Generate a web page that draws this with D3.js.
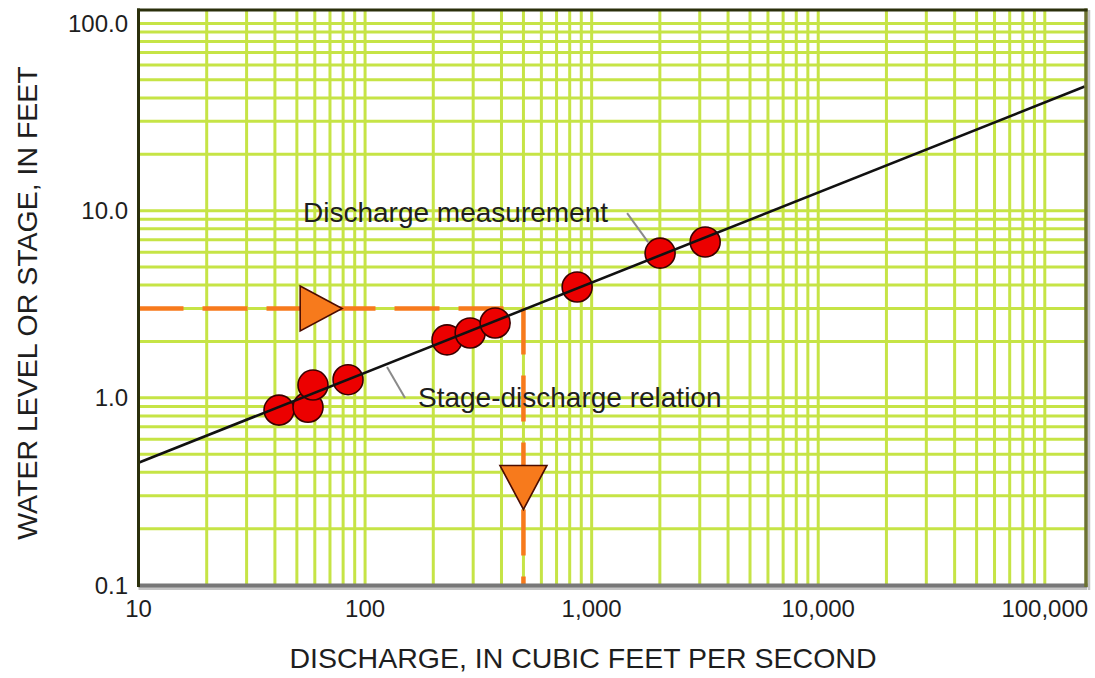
<!DOCTYPE html>
<html>
<head>
<meta charset="utf-8">
<script src="https://cdn.jsdelivr.net/npm/d3@7"></script>
<style>
  html, body { margin: 0; padding: 0; background: #ffffff; }
  svg { display: block; }
  text { font-family: "Liberation Sans", Arial, Helvetica, sans-serif; fill: #1e1e1e; }
</style>
</head>
<body>
<svg id="chart" width="1095" height="678"></svg>
<script>
// Discharge measurements (cubic feet per second) and the stage observed at each
const measDischarge = [41.7, 56.0, 58.9, 84.1, 230, 291, 375, 863, 2005, 3170];
const measStage     = [0.86, 0.89, 1.17, 1.25, 2.04, 2.22, 2.51, 3.91, 5.93, 6.80];

// Stage-discharge relation (rating curve) end points
const ratingDischarge = [10, 150000];
const ratingStage     = [0.45, 46];

// Example reading: a stage of 3.0 ft gives a discharge of 500 cfs
const readDischarge = 500;
const readStage = 3.0;
// Arrow markers along the reading path
const arrowDischarge = [64, 500];
const arrowStage     = [3.0, 0.332];
const arrowDir       = ["right", "down"];

// Axis ticks
const xTicks = [10, 100, 1000, 10000, 100000];
const xTickLabels = ["10", "100", "1,000", "10,000", "100,000"];
const yTicks = [0.1, 1, 10, 100];
const yTickLabels = ["0.1", "1.0", "10.0", "100.0"];

const svg = d3.select("#chart");
const plotLeft = 138.5, plotRight = 1086, plotTop = 10, plotBottom = 585;

const x = d3.scaleLog().domain([10, 152000]).range([plotLeft, plotRight]);
const y = d3.scaleLog().domain([0.1, 118]).range([plotBottom, plotTop]);

const gridColor = "#c6e446";
const orange = "#f77a1c";

// Grid
const grid = svg.append("g");
grid.selectAll("line.vx")
  .data(x.ticks().filter(d => d > 10))
  .join("line")
  .attr("x1", d => x(d)).attr("x2", d => x(d))
  .attr("y1", plotTop).attr("y2", plotBottom)
  .attr("stroke", gridColor).attr("stroke-width", 3);
grid.selectAll("line.hy")
  .data(y.ticks().filter(d => d > 0.1))
  .join("line")
  .attr("y1", d => y(d)).attr("y2", d => y(d))
  .attr("x1", plotLeft).attr("x2", plotRight)
  .attr("stroke", gridColor).attr("stroke-width", 3);

// Reading path: stage across to the curve, then down to discharge
const reading = svg.append("g")
  .attr("stroke", orange).attr("stroke-width", 4.5).attr("fill", "none");
reading.append("line")
  .attr("x1", x(10)).attr("x2", x(readDischarge))
  .attr("y1", y(readStage)).attr("y2", y(readStage))
  .attr("stroke-dasharray", "45,19");
reading.append("line")
  .attr("x1", x(readDischarge)).attr("x2", x(readDischarge))
  .attr("y1", y(readStage)).attr("y2", y(0.1))
  .attr("stroke-dasharray", "46,21");

// Measurements
svg.append("g").selectAll("circle")
  .data(measDischarge.map((q, i) => ({ q, s: measStage[i] })))
  .join("circle")
  .attr("cx", d => x(d.q)).attr("cy", d => y(d.s))
  .attr("r", 15)
  .attr("fill", "#ec0000")
  .attr("stroke", "#3a0000").attr("stroke-width", 1.6);

// Rating curve
const line = d3.line().x(d => x(d.q)).y(d => y(d.s));
svg.append("path")
  .datum(ratingDischarge.map((q, i) => ({ q, s: ratingStage[i] })))
  .attr("d", line)
  .attr("fill", "none").attr("stroke", "#111").attr("stroke-width", 2.6);

// Arrow markers
const triW = 42, triH = 45;
svg.append("g").selectAll("path")
  .data(arrowDischarge.map((q, i) => ({ q, s: arrowStage[i], dir: arrowDir[i] })))
  .join("path")
  .attr("d", d => {
    const cx = x(d.q), cy = y(d.s);
    if (d.dir === "right") {
      return `M${cx - triW / 2},${cy - triH / 2}L${cx + triW / 2},${cy}L${cx - triW / 2},${cy + triH / 2}Z`;
    }
    return `M${cx - triH / 2 - 1},${cy - triW / 2 - 1}L${cx + triH / 2 + 1},${cy - triW / 2 - 1}L${cx},${cy + triW / 2 + 1}Z`;
  })
  .attr("fill", orange)
  .attr("stroke", "#4a0c00").attr("stroke-width", 1.6)
  .attr("stroke-linejoin", "miter");

// Leader lines for annotations
const leaders = svg.append("g").attr("stroke", "#8a8a8a").attr("stroke-width", 2).attr("fill", "none");
const mq = measDischarge[8], ms = measStage[8];
leaders.append("line")
  .attr("x1", x(mq) - 33).attr("y1", y(ms) - 40)
  .attr("x2", x(mq) - 12).attr("y2", y(ms) - 11);
const lq = 125;
const ratingAt = q => {
  const t = (Math.log10(q) - Math.log10(ratingDischarge[0])) /
            (Math.log10(ratingDischarge[1]) - Math.log10(ratingDischarge[0]));
  return Math.pow(10, Math.log10(ratingStage[0]) + t * (Math.log10(ratingStage[1]) - Math.log10(ratingStage[0])));
};
leaders.append("line")
  .attr("x1", x(lq)).attr("y1", y(ratingAt(lq)) + 3)
  .attr("x2", x(lq) + 18).attr("y2", y(ratingAt(lq)) + 34);

// Annotation text
svg.append("text")
  .attr("x", 303).attr("y", 222)
  .attr("font-size", 28)
  .text("Discharge measurement");
svg.append("text")
  .attr("x", 418).attr("y", 407)
  .attr("font-size", 28)
  .text("Stage-discharge relation");

// Frame
const frame = svg.append("g").attr("fill", "none");
frame.append("line").attr("x1", plotLeft).attr("x2", plotRight + 1).attr("y1", plotBottom + 3.5).attr("y2", plotBottom + 3.5)
  .attr("stroke", "#c4c4c4").attr("stroke-width", 3);
frame.append("line").attr("x1", plotRight + 3).attr("x2", plotRight + 3).attr("y1", plotTop).attr("y2", plotBottom + 5)
  .attr("stroke", "#c4c4c4").attr("stroke-width", 2.5);
frame.append("line").attr("x1", plotLeft).attr("x2", plotRight + 1.5).attr("y1", plotBottom + 0.5).attr("y2", plotBottom + 0.5)
  .attr("stroke", "#777777").attr("stroke-width", 4);
frame.append("line").attr("x1", plotRight).attr("x2", plotRight).attr("y1", plotTop - 1.5).attr("y2", plotBottom + 2)
  .attr("stroke", "#6c7232").attr("stroke-width", 3.5);
frame.append("line").attr("x1", plotLeft - 1.5).attr("x2", plotRight + 1.5).attr("y1", plotTop).attr("y2", plotTop)
  .attr("stroke", "#2b300c").attr("stroke-width", 3);
frame.append("line").attr("x1", plotLeft).attr("x2", plotLeft).attr("y1", plotTop - 1.5).attr("y2", plotBottom + 2)
  .attr("stroke", "#2b300c").attr("stroke-width", 3);

// Tick labels
svg.append("g").selectAll("text")
  .data(xTicks.map((v, i) => ({ v, label: xTickLabels[i] })))
  .join("text")
  .attr("x", d => x(d.v)).attr("y", 617)
  .attr("text-anchor", "middle")
  .attr("font-size", 24)
  .text(d => d.label);
svg.append("g").selectAll("text")
  .data(yTicks.map((v, i) => ({ v, label: yTickLabels[i] })))
  .join("text")
  .attr("x", 128).attr("y", d => y(d.v))
  .attr("dy", "0.36em")
  .attr("text-anchor", "end")
  .attr("font-size", 24)
  .text(d => d.label);

// Axis titles
svg.append("text")
  .attr("x", 583).attr("y", 668)
  .attr("text-anchor", "middle")
  .attr("font-size", 28.5)
  .text("DISCHARGE, IN CUBIC FEET PER SECOND");
svg.append("text")
  .attr("transform", "translate(37,303) rotate(-90)")
  .attr("text-anchor", "middle")
  .attr("font-size", 28.5)
  .text("WATER LEVEL OR STAGE,  IN FEET");
</script>
</body>
</html>
